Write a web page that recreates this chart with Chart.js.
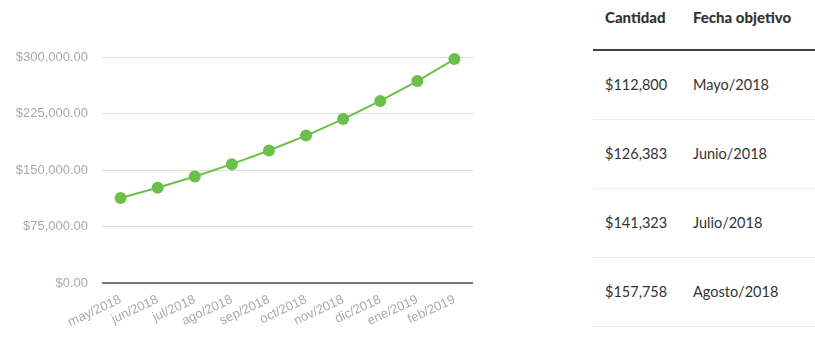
<!DOCTYPE html>
<html>
<head>
<meta charset="utf-8">
<script src="https://cdn.jsdelivr.net/npm/chart.js@4/dist/chart.umd.min.js"></script>
<style>
  body { margin: 0; background: #fff; width: 815px; height: 339px; overflow: hidden; position: relative; }
  #chartBox { position: absolute; left: 0; top: 0; width: 490px; height: 339px; }
  table { position: absolute; left: 593px; top: 0; width: 222px; border-collapse: collapse; font-family: Lato, "Open Sans", sans-serif; color: #333; }
  th { font-weight: 900; font-size: 15px; text-align: left; height: 50px; padding: 8px 0 0 12px; border-bottom: 2px solid #3a4444; vertical-align: top; box-sizing: border-box; }
  td { font-size: 14.5px; height: 69px; padding: 0 0 0 12px; border-bottom: 1px solid #eee; box-sizing: border-box; }
  td:first-child { width: 88px; }
</style>
</head>
<body>
<div id="chartBox"><canvas id="chart"></canvas></div>
<table>
  <thead><tr><th>Cantidad</th><th>Fecha objetivo</th></tr></thead>
  <tbody id="rows"></tbody>
</table>
<script>
// Months on the x axis and the goal amounts
const months = ['may/2018', 'jun/2018', 'jul/2018', 'ago/2018', 'sep/2018', 'oct/2018', 'nov/2018', 'dic/2018', 'ene/2019', 'feb/2019'];
const amounts = [112800, 126383, 141323, 157758, 175836, 195722, 217597, 241659, 268127, 297242];

// Table rows shown on the right
const tableAmounts = ['$112,800', '$126,383', '$141,323', '$157,758'];
const tableDates = ['Mayo/2018', 'Junio/2018', 'Julio/2018', 'Agosto/2018'];

const tbody = document.getElementById('rows');
tableAmounts.forEach((a, i) => {
    const tr = document.createElement('tr');
    tr.innerHTML = `<td>${a}</td><td>${tableDates[i]}</td>`;
    tbody.appendChild(tr);
});

const green = '#6cc04a';
const axisFont = "'Liberation Sans', Arial, sans-serif";

new Chart(document.getElementById('chart'), {
    type: 'line',
    data: {
        labels: months,
        datasets: [{
            data: amounts,
            borderColor: green,
            backgroundColor: green,
            borderWidth: 2,
            pointRadius: 6,
            pointHoverRadius: 6,
            pointBorderWidth: 0,
            tension: 0,
            clip: false
        }]
    },
    options: {
        responsive: true,
        maintainAspectRatio: false,
        animation: false,
        layout: { padding: { top: 57, right: 17, left: 0, bottom: 0 } },
        plugins: { legend: { display: false }, tooltip: { enabled: false } },
        scales: {
            x: {
                offset: true,
                grid: { display: false, drawTicks: false },
                border: { display: false },
                ticks: {
                    autoSkip: false,
                    color: '#aaa',
                    font: { family: axisFont, size: 13 },
                    minRotation: 25,
                    maxRotation: 25,
                    padding: 9
                },
                afterFit: s => { s.height = 56; }
            },
            y: {
                min: 0,
                max: 300000,
                ticks: {
                    stepSize: 75000,
                    color: '#aaa',
                    font: { family: axisFont, size: 13 },
                    padding: 14,
                    callback: v => '$' + v.toLocaleString('en-US', { minimumFractionDigits: 2, maximumFractionDigits: 2 })
                },
                grid: {
                    drawTicks: false,
                    color: ctx => ctx.tick.value === 0 ? '#777' : '#ddd',
                    lineWidth: ctx => ctx.tick.value === 0 ? 2 : 1
                },
                border: { display: false },
                afterFit: s => { s.width = 102; }
            }
        }
    }
});
</script>
</body>
</html>
